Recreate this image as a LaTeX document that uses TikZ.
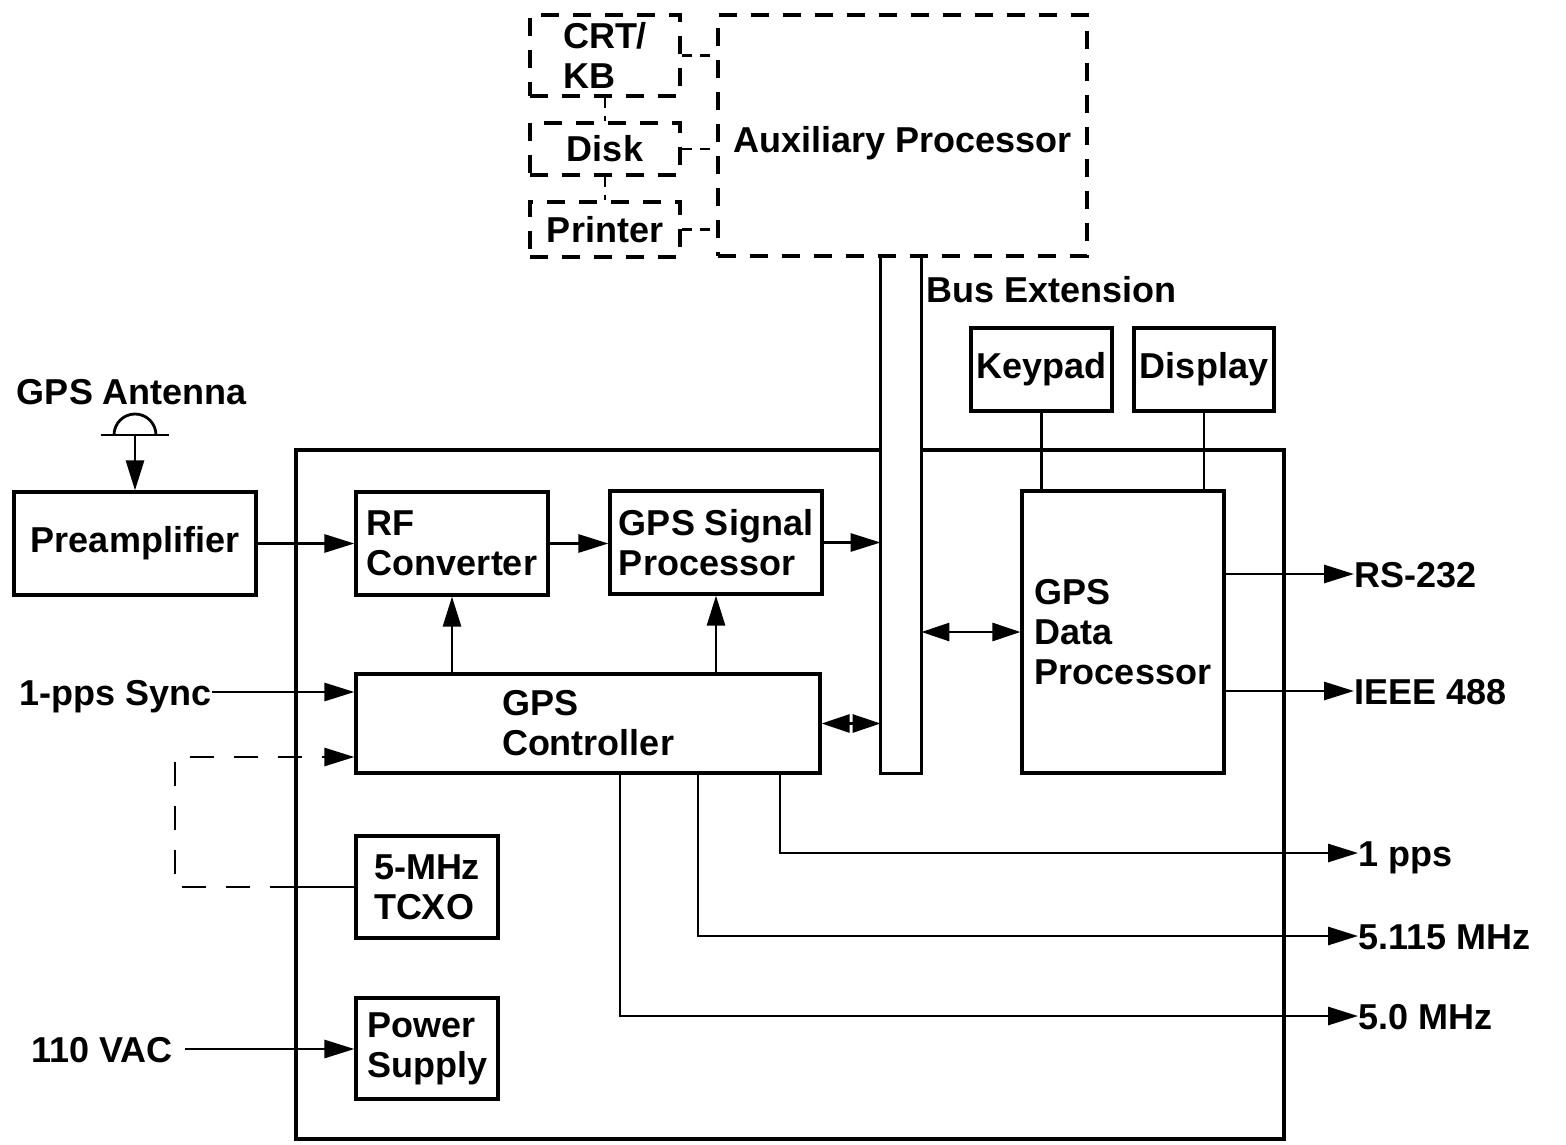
\documentclass[tikz,border=0pt]{standalone}
\usepackage{fontspec}
\setmainfont{Liberation Sans}
\usetikzlibrary{arrows.meta,positioning}
\newcommand{\diagfont}{\fontsize{18}{20}\selectfont\bfseries}
\tikzset{
  block/.style={
    draw,
    line width=1.6pt,
    align=left,
    inner sep=0pt,
    font=\diagfont
  },
  auxblock/.style={
    block,
    dash pattern=on 9pt off 7pt
  },
  sig/.style={
    inner sep=0pt,
    text height=13pt,
    text depth=0pt,
    font=\diagfont
  },
  wire/.style={line width=1.4pt},
  arr/.style={-{Triangle[length=15pt,width=9pt]},line width=1.4pt},
  dblarr/.style={{Triangle[length=14pt,width=9pt]}-{Triangle[length=14pt,width=9pt]},line width=1.4pt},
  auxlink/.style={line width=1.4pt,dash pattern=on 5pt off 4pt},
  looparr/.style={arr,dash pattern=on 12pt off 10pt}
}

\begin{document}
\begin{tikzpicture}[x=0.5pt,y=-0.5pt]
  \useasboundingbox (0,0) rectangle (1566,1144);
  % receiver chassis and bus
  \node[block,minimum width=494pt,minimum height=344.5pt] (chassis) at (790,794.5) {};
  \node[fill=white,inner sep=0pt,minimum width=20pt,minimum height=258.5pt] (bus) at (901,514.5) {};
  \draw[line width=1.6pt] (bus.north west) |- (bus.south east) -- (bus.north east);
  \node[sig,anchor=west] (busext) at (926,290) {Bus Extension};

  % auxiliary equipment
  \node[auxblock,minimum width=184.5pt,minimum height=120.5pt,text height=21pt] (aux) at (902.5,135.5) {Auxiliary Processor};
  \node[auxblock,minimum width=75pt,minimum height=40.5pt] (crt) at (605,55.5) {CRT/\\KB};
  \node[auxblock,minimum width=75pt,minimum height=26pt] (disk) at (605,149) {Disk};
  \node[auxblock,minimum width=75pt,minimum height=27.5pt] (printer) at (605,229.5) {Printer};
  \draw[auxlink] (crt.east) -- (crt.east -| aux.west);
  \draw[auxlink] (disk.east) -- (disk.east -| aux.west);
  \draw[auxlink] (printer.east) -- (printer.east -| aux.west);
  \draw[auxlink] (crt.south) -- (disk.north);
  \draw[auxlink] (disk.south) -- (printer.north);

  % antenna and front end
  \node[sig] (antlabel) at (132,391) {GPS Antenna};
  \coordinate (ant) at (135,435);
  \draw[wire] (ant) ++(-34,0) -- ++(68,0);
  \draw[wire] (ant) ++(-21,0) arc[start angle=180,end angle=0,radius=10.5pt];
  \node[block,minimum width=121pt,minimum height=51.5pt] (preamp) at (135,543.5) {Preamplifier};
  \draw[arr] (ant) -- (preamp.north);
  \node[block,minimum width=96pt,minimum height=51.5pt] (rf) at (452,543.5) {RF\\Converter};
  \node[block,minimum width=106pt,minimum height=51.5pt] (gsp) at (716,542.5) {GPS Signal\\Processor};
  \node[block,minimum width=232pt,minimum height=49.5pt] (ctrl) at (588,723.5) {GPS\\Controller};
  \node[block,minimum width=71pt,minimum height=51pt] (tcxo) at (427,887) {5-MHz\\TCXO};
  \node[block,minimum width=71pt,minimum height=50.5pt] (psu) at (427,1048.5) {Power\\Supply};

  % data processor side
  \node[block,minimum width=101pt,minimum height=141pt] (gdp) at (1123,632) {GPS\\Data\\Processor};
  \node[block,minimum width=70.5pt,minimum height=41.5pt] (keypad) at (1041.5,369.5) {Keypad};
  \node[block,minimum width=70pt,minimum height=41.5pt] (display) at (1204,369.5) {Display};

  % inputs and outputs
  \node[sig,anchor=east] (sync) at (212,692) {1-pps Sync};
  \node[sig,anchor=east] (vac) at (173,1049) {110 VAC};
  \node[sig,anchor=west] (rs) at (1354,574) {RS-232};
  \node[sig,anchor=west] (ieee) at (1354,691) {IEEE 488};
  \node[sig,anchor=west] (pps) at (1358,853) {1 pps};
  \node[sig,anchor=west] (fa) at (1358,936) {5.115 MHz};
  \node[sig,anchor=west] (fb) at (1358,1016) {5.0 MHz};

  % signal paths
  \draw[arr] (preamp) -- (rf);
  \draw[arr] (rf.east) -- (rf.east -| gsp.west);
  \draw[arr] (gsp.east) -- (gsp.east -| bus.west);
  \draw[arr] (rf.south |- ctrl.north) -- (rf.south);
  \draw[arr] (gsp.south |- ctrl.north) -- (gsp.south);
  \draw[arr] (sync.east) -- (sync.east -| ctrl.west);
  \coordinate (loop) at (175,757);
  \draw[wire] (tcxo.west) -- (tcxo.west -| chassis.west);
  \draw[looparr] (tcxo.west -| chassis.west) -| (loop) -- (loop -| ctrl.west);
  \draw[arr,shorten <=6pt] (vac.east) -- (vac.east -| psu.west);
  \draw[dblarr] (ctrl.east) -- (ctrl.east -| bus.west);
  \draw[dblarr] (gdp.west -| bus.east) -- (gdp.west);
  \draw[wire] (keypad.south) -- (keypad.south |- gdp.north);
  \draw[wire] (display.south) -- (display.south |- gdp.north);
  \draw[arr] (gdp.east |- rs) -- (rs.west);
  \draw[arr] (gdp.east |- ieee) -- (ieee.west);
  \draw[arr] ([xshift=96pt]ctrl.south) |- (pps.west);
  \draw[arr] ([xshift=55pt]ctrl.south) |- (fa.west);
  \draw[arr] ([xshift=16pt]ctrl.south) |- (fb.west);
\end{tikzpicture}
\end{document}
